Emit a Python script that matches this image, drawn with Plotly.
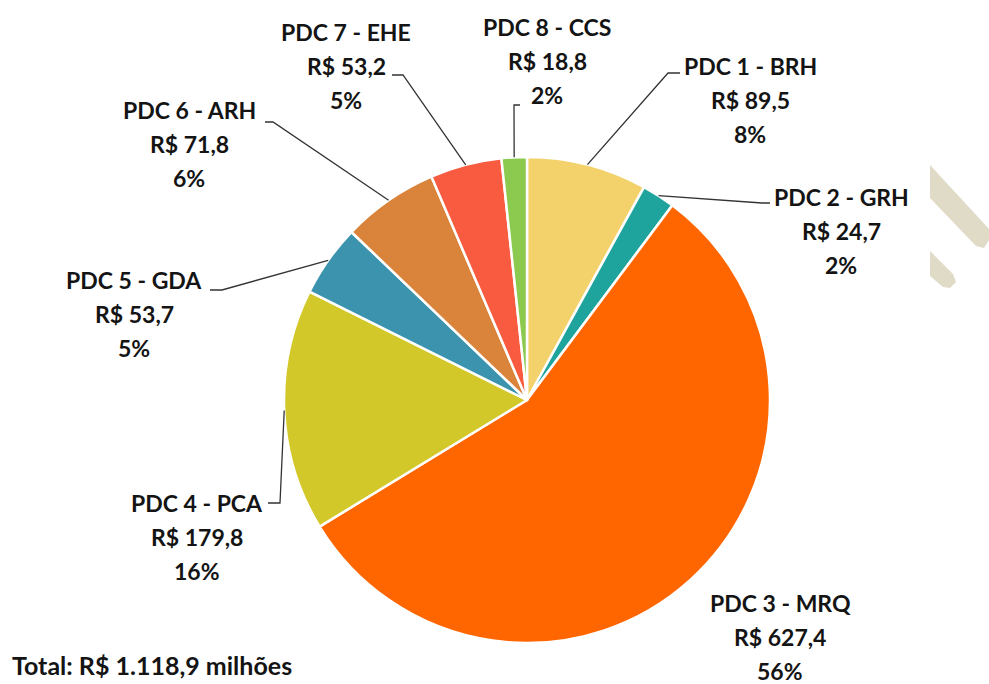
import math
import plotly.graph_objects as go

# --- data -------------------------------------------------------------
codes = ["PDC 1 - BRH", "PDC 2 - GRH", "PDC 3 - MRQ", "PDC 4 - PCA",
         "PDC 5 - GDA", "PDC 6 - ARH", "PDC 7 - EHE", "PDC 8 - CCS"]
values = [89.5, 24.7, 627.4, 179.8, 53.7, 71.8, 53.2, 18.8]
colors = ["#F3D26C", "#1FA39D", "#FF6600", "#D3C82A",
          "#3C93AE", "#D9833B", "#F95B40", "#8CC94F"]
total_label = "Total: R$ 1.118,9 milhões"

# --- layout (pixels) ------------------------------------------------
W, H = 989, 684
CX, CY, R = 527, 400, 243
FONT = "Lato"
TXT = "#141414"
LINE_GAP = 34

# label block: centre x, centre y of first line; leader elbow and end points
label_layout = [
    dict(x=750, y=66, elbow=(668, 73), end=(680, 73)),
    dict(x=841, y=197, elbow=(762, 203), end=(770, 203)),
    dict(x=780, y=603, elbow=None, end=None),
    dict(x=197, y=503, elbow=(280, 503), end=(268, 503)),
    dict(x=134, y=280, elbow=(222, 290), end=(210, 290)),
    dict(x=189, y=110, elbow=(273, 122), end=(265, 122)),
    dict(x=346, y=32, elbow=(403, 75), end=(392, 75)),
    dict(x=547, y=27, elbow=(514, 105), end=(520, 105)),
]


def px(x):
    return x / W


def py(y):
    return 1 - y / H


def fmt_money(v):
    return "R$ " + f"{v:.1f}".replace(".", ",")


fig = go.Figure()
fig.add_trace(go.Pie(
    values=values,
    labels=codes,
    sort=False,
    direction="clockwise",
    rotation=0,
    marker=dict(colors=colors, line=dict(color="white", width=2.5)),
    textinfo="none",
    hoverinfo="label+value+percent",
    showlegend=False,
    domain=dict(x=[px(CX - R), px(CX + R)], y=[py(CY + R), py(CY - R)]),
))

total = sum(values)
annotations = []
shapes = []
cum = 0.0
for code, v, lay in zip(codes, values, label_layout):
    mid = (cum + v / 2) / total * 2 * math.pi
    cum += v
    pct = f"{round(v / total * 100):d}%"
    for i, line in enumerate([code, fmt_money(v), pct]):
        annotations.append(dict(
            x=px(lay["x"]), y=py(lay["y"] + i * LINE_GAP),
            xref="paper", yref="paper", xanchor="center", yanchor="middle",
            text=f"<b>{line}</b>", showarrow=False,
            font=dict(family=FONT, size=23, color=TXT),
        ))
    if lay["elbow"] is not None:
        ex, ey = CX + R * math.sin(mid), CY - R * math.cos(mid)
        (bx, by), (tx, ty) = lay["elbow"], lay["end"]
        path = (f"M {px(ex)} {py(ey)} L {px(bx)} {py(by)} "
                f"L {px(tx)} {py(ty)}")
        shapes.append(dict(type="path", xref="paper", yref="paper", path=path,
                           line=dict(color="#333333", width=1.3)))

annotations.append(dict(
    x=px(10), y=py(665), xref="paper", yref="paper",
    xanchor="left", yanchor="middle", showarrow=False,
    text=f"<b>{total_label}</b>",
    font=dict(family=FONT, size=25, color=TXT),
))

# decorative beige stripes at the right edge
stripe_color = "#E0DBC7"
stripes = [
    [(930, 165), (989, 229), (989, 240), (984, 248), (976, 246), (930, 198)],
    [(930, 251), (953, 274), (956, 282), (950, 288), (943, 287), (930, 276)],
]
for pts in stripes:
    d = "M " + " L ".join(f"{px(x)} {py(y)}" for x, y in pts) + " Z"
    shapes.append(dict(type="path", xref="paper", yref="paper", path=d,
                       fillcolor=stripe_color, line=dict(width=0),
                       layer="below"))

fig.update_layout(
    width=W, height=H,
    margin=dict(l=0, r=0, t=0, b=0),
    paper_bgcolor="white", plot_bgcolor="white",
    annotations=annotations,
    shapes=shapes,
)

fig.write_html("out.html")
